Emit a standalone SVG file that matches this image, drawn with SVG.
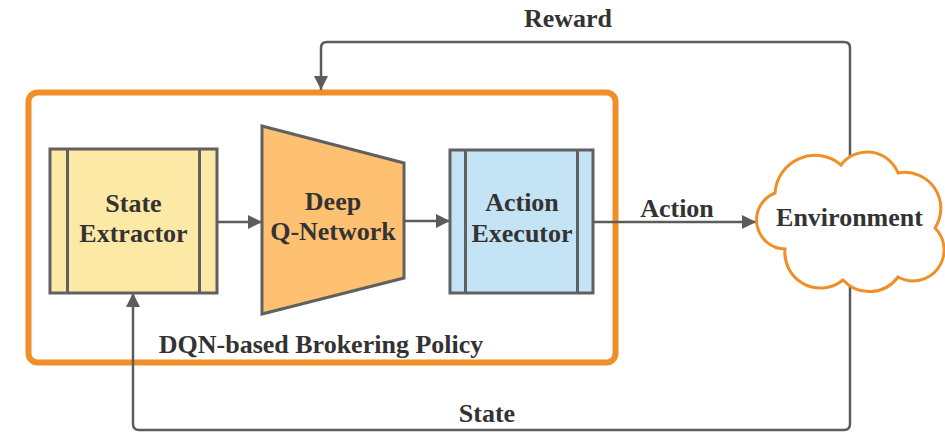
<svg xmlns="http://www.w3.org/2000/svg" width="945" height="432" viewBox="0 0 945 432">
  <style>
    .lbl { font-family: "Liberation Serif", "Times New Roman", serif; font-weight: bold; font-size: 26px; fill: #333333; text-anchor: middle; }
    .conn { fill: none; stroke: #5c5c5c; stroke-width: 2.5; }
    .box { stroke: #606060; stroke-width: 3; }
    .bar { stroke: #606060; stroke-width: 3; fill: none; }
  </style>
  <defs>
    <marker id="arrow" viewBox="0 0 10 10" refX="10" refY="5" markerWidth="20" markerHeight="14" markerUnits="userSpaceOnUse" orient="auto">
      <path d="M0,0 L10,5 L0,10 z" fill="#5c5c5c"/>
    </marker>
  </defs>

  <rect width="945" height="432" fill="#ffffff"/>

  <!-- policy container -->
  <g id="policy">
    <rect x="28.5" y="92.5" width="587" height="270" rx="9" fill="#ffffff" stroke="#f08f27" stroke-width="6"/>
    <text class="lbl" x="321" y="353">DQN-based Brokering Policy</text>
  </g>

  <!-- connectors -->
  <g id="connectors">
    <path class="conn" d="M217 222 H262" marker-end="url(#arrow)"/>
    <path class="conn" d="M404 221 H450" marker-end="url(#arrow)"/>
    <path class="conn" d="M593 222 H756" marker-end="url(#arrow)"/>
    <path class="conn" d="M850 162 V48 Q850 42 844 42 H327 Q321 42 321 48 V90" marker-end="url(#arrow)"/>
    <path class="conn" d="M850 284 V424 Q850 430 844 430 H139 Q133 430 133 424 V293" marker-end="url(#arrow)"/>
    <text class="lbl" x="677" y="217">Action</text>
    <text class="lbl" x="568" y="27">Reward</text>
    <text class="lbl" x="487" y="422">State</text>
  </g>

  <!-- state extractor -->
  <g id="state-extractor">
    <rect class="box" x="50" y="149" width="167" height="144" fill="#fde9a6"/>
    <path class="bar" d="M67.5 149 V293 M199.5 149 V293"/>
    <text class="lbl" x="133.5" y="212">State</text>
    <text class="lbl" x="133.5" y="242">Extractor</text>
  </g>

  <!-- deep q-network -->
  <g id="deep-q-network">
    <polygon class="box" points="262,126 404,163 404,278 262,314" fill="#fec172"/>
    <text class="lbl" x="333" y="210">Deep</text>
    <text class="lbl" x="333" y="240">Q-Network</text>
  </g>

  <!-- action executor -->
  <g id="action-executor">
    <rect class="box" x="450" y="150" width="143" height="143" fill="#c4e3f4"/>
    <path class="bar" d="M465.5 150 V293 M577.5 150 V293"/>
    <text class="lbl" x="522" y="211">Action</text>
    <text class="lbl" x="522" y="242">Executor</text>
  </g>

  <!-- environment cloud -->
  <g id="environment">
    <path d="M775 193 A40 40 0 0 1 841 165 A33 33 0 0 1 898 173 A36 36 0 0 1 935 228 A31 31 0 0 1 898 277 A35.6 35.6 0 0 1 843 280 A35.6 35.6 0 0 1 785 249 A29 29 0 0 1 775 193 Z" fill="#ffffff" stroke="#f08f27" stroke-width="3"/>
    <text class="lbl" x="849.5" y="226">Environment</text>
  </g>
</svg>
